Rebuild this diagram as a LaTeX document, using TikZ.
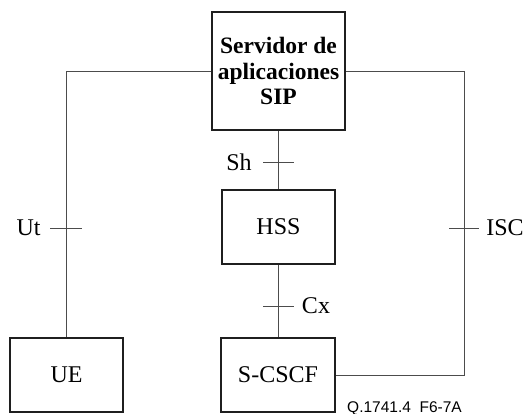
\documentclass[tikz,border=0pt]{standalone}
\usepackage{fontspec}
\setmainfont{Liberation Serif}
\newfontfamily\figsans{Liberation Sans}
\begin{document}
\begin{tikzpicture}[x=1pt,y=-1pt,
  box/.style={draw=black!88,line width=1.7pt,inner sep=0pt,
    minimum width=113pt,minimum height=74pt,
    font=\fontsize{24}{26}\selectfont},
  link/.style={draw=black!70,line width=0.9pt},
  lbl/.style={inner sep=0pt,font=\fontsize{24}{26}\selectfont}]
\useasboundingbox (0,0) rectangle (525,414);

% functional entities
\node[box,minimum width=133pt,minimum height=118pt,align=center,
      font=\fontsize{23.5}{25.5}\selectfont\bfseries] (sip) at (278.5,71)
      {Servidor de\\aplicaciones\\SIP};
\node[box] (hss)   at (278.5,227) {HSS};
\node[box,minimum width=114pt] (scscf) at (278,375) {S-CSCF};
\node[box] (ue)    at (66.5,375) {UE};

% corner and reference-point coordinates
\coordinate (isc) at (464,71);
\coordinate (ut)  at (66,228);
\coordinate (iscp) at (464,228);
\coordinate (sh)  at (278.5,162);
\coordinate (cx)  at (278.5,306);

% interfaces
\draw[link] (sip.west) -| (ue.north -| ut);
\draw[link] (sip.east) -- (isc) |- (scscf.east);
\draw[link] (sip.south) -- (hss.north);
\draw[link] (hss.south) -- (scscf.north -| hss.south);

% reference-point ticks
\draw[link] ([xshift=-16pt]ut) -- ([xshift=16pt]ut);
\draw[link] ([xshift=-15pt]iscp) -- ([xshift=15pt]iscp);
\draw[link] ([xshift=-15.5pt]sh) -- ([xshift=15pt]sh);
\draw[link] ([xshift=-15.5pt]cx) -- ([xshift=15pt]cx);

% reference-point labels
\node[lbl] (utl)  at (28.5,228)  {Ut};
\node[lbl] (iscl) at (505,228) {ISC};
\node[lbl] (shl)  at (239,162) {Sh};
\node[lbl] (cxl)  at (316,306) {Cx};

% figure number
\node[inner sep=0pt,anchor=base west,font=\figsans\fontsize{15.5}{17}\selectfont]
  (fig) at (347,412) {Q.1741.4\ \ F6-7A};
\end{tikzpicture}
\end{document}
